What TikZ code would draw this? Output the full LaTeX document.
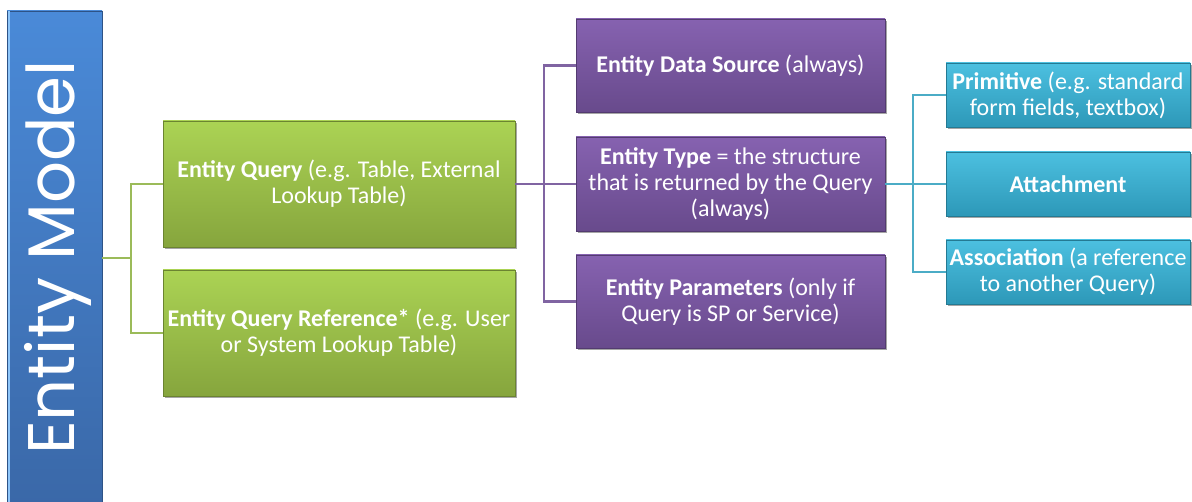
\documentclass[tikz,border=0pt]{standalone}
\usepackage{fontspec}
\setmainfont{Carlito}
\newfontfamily\titlefont{Poppins}
\usetikzlibrary{shadows}
\definecolor{gA}{HTML}{9BBB59}
\definecolor{gTop}{HTML}{ABD354}
\definecolor{gBot}{HTML}{86A53D}
\definecolor{pA}{HTML}{8064A2}
\definecolor{pTop}{HTML}{8662B0}
\definecolor{pBot}{HTML}{684A8C}
\definecolor{cA}{HTML}{4BACC6}
\definecolor{cTop}{HTML}{4CC0E0}
\definecolor{cBot}{HTML}{2D98B8}
\definecolor{bTop}{HTML}{4A8AD8}
\definecolor{bBot}{HTML}{3A68A8}
\definecolor{bHi}{HTML}{8EC6FA}
\tikzset{
  box/.style={rectangle, inner sep=0pt, outer sep=0pt, text=white, align=center,
    font=\fontsize{24}{26}\selectfont,
    drop shadow={shadow xshift=1.5pt, shadow yshift=-2pt, opacity=0.35, fill=black}},
  greenbox/.style={box, top color=gTop, bottom color=gBot, draw=gBot!80!black, line width=0.4pt},
  purplebox/.style={box, top color=pTop, bottom color=pBot, draw=pBot!80!black, line width=0.4pt},
  cyanbox/.style={box, top color=cTop, bottom color=cBot, draw=cBot!80!black, line width=0.4pt},
  modelbox/.style={rectangle, inner sep=0pt, outer sep=0pt, top color=bTop, bottom color=bBot,
    draw=bBot!80!black, line width=0.4pt},
  gline/.style={draw=gA, line width=2.2pt},
  pline/.style={draw=pA, line width=2.2pt},
  cline/.style={draw=cA, line width=2.2pt},
}
\begin{document}
\begin{tikzpicture}[x=1pt, y=-1pt]
\useasboundingbox (0,0) rectangle (1192,502);
% left model bar
\node[modelbox, minimum width=95pt, minimum height=494pt] (model) at (54.5,258) {};
\draw[bHi, line width=2pt] ([xshift=2pt]model.north west) -- ([xshift=2pt]model.south west);
\node[rotate=90, anchor=base, text=white, inner sep=0pt] (title) at (74,257.5)
  {\resizebox{395pt}{!}{\titlefont Entity Model}};
% green level
\node[greenbox, minimum width=352pt, minimum height=126pt] (q1) at (339,184)
  {\textbf{Entity Query} (e.g. Table, External\\Lookup Table)};
\node[greenbox, minimum width=352pt, minimum height=126pt] (q2) at (339,333)
  {\textbf{Entity Query Reference*} (e.g. User\\or System Lookup Table)};
% purple level
\node[purplebox, minimum width=309pt, minimum height=93pt] (ds) at (730.5,65.5)
  {\textbf{Entity Data Source} (always)};
\node[purplebox, minimum width=309pt, minimum height=94pt] (et) at (730.5,184)
  {\textbf{Entity Type} = the structure\\that is returned by the Query\\(always)};
\node[purplebox, minimum width=309pt, minimum height=93pt] (ep) at (730.5,301.5)
  {\textbf{Entity Parameters} (only if\\Query is SP or Service)};
% cyan level
\node[cyanbox, minimum width=244pt, minimum height=64pt] (pr) at (1068,95)
  {\textbf{Primitive} (e.g. standard\\form fields, textbox)};
\node[cyanbox, minimum width=244pt, minimum height=64pt] (at) at (1068,184)
  {\textbf{Attachment}};
\node[cyanbox, minimum width=244pt, minimum height=64pt] (as) at (1068,272)
  {\textbf{Association} (a reference\\to another Query)};
% junctions
\coordinate (gj) at (131,258);
\coordinate (pj) at (544,184);
\coordinate (cj) at (913,184);
% connectors
\draw[gline] (model.east) -- (gj);
\draw[gline] (q1.west) -| (gj) |- (q2.west);
\draw[pline] (q1.east) -- (pj);
\draw[pline] (ds.west) -| (pj) |- (ep.west);
\draw[pline] (pj) -- (et.west);
\draw[cline] (et.east) -- (cj);
\draw[cline] (pr.west) -| (cj) |- (as.west);
\draw[cline] (cj) -- (at.west);
\end{tikzpicture}
\end{document}
